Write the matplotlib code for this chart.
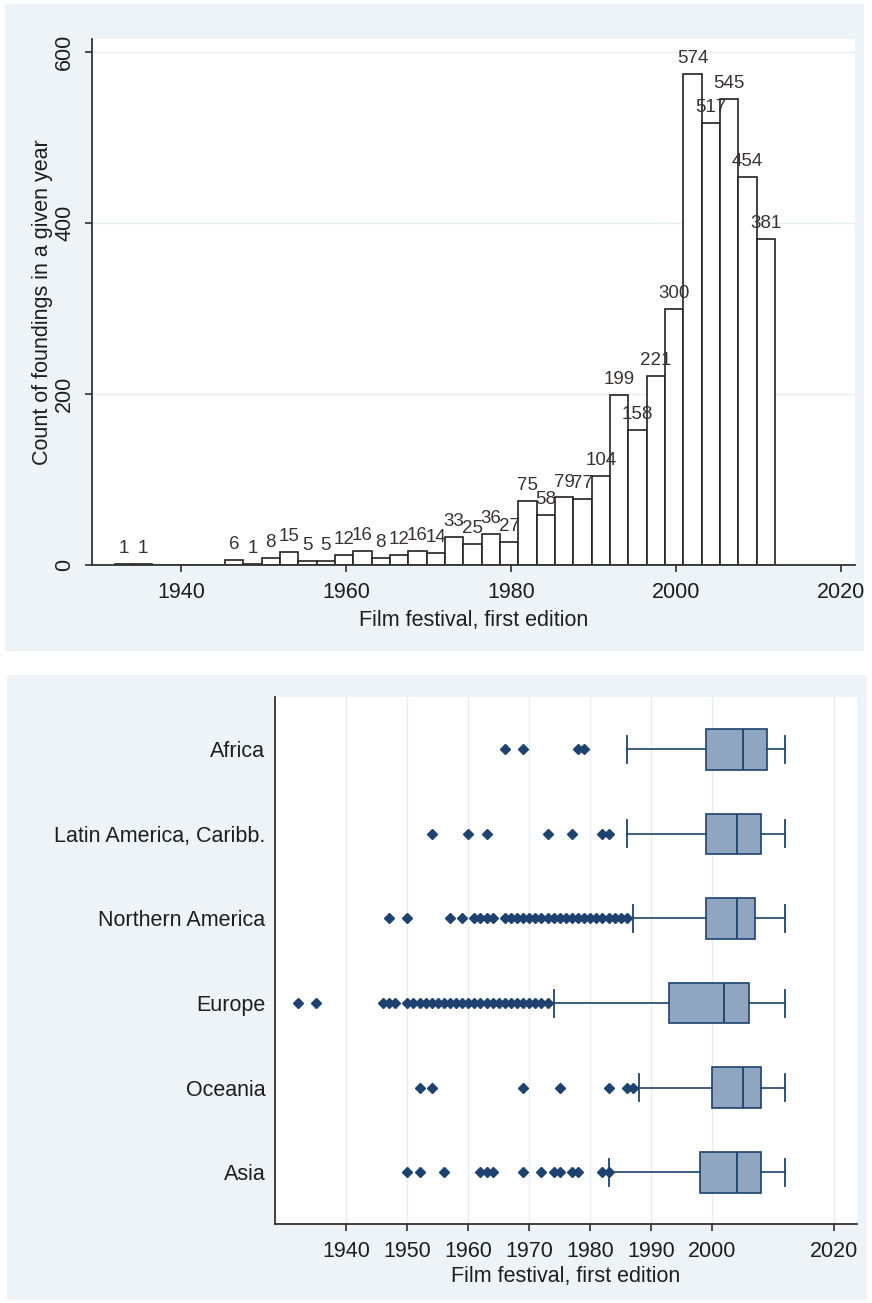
import matplotlib
matplotlib.use("Agg")
import matplotlib.pyplot as plt
from matplotlib.patches import Rectangle
import numpy as np

plt.rcParams['font.family'] = ['Liberation Sans', 'DejaVu Sans']

# --- top panel: foundings per bin (36 equal bins between first and last year)
year_min, year_max, n_bins = 1932, 2012, 36
counts = [1, 1, 0, 0, 0, 0, 6, 1, 8, 15, 5, 5, 12, 16, 8, 12, 16, 14, 33, 25,
          36, 27, 75, 58, 79, 77, 104, 199, 158, 221, 300, 574, 517, 545, 454, 381]
top_xticks = [1940, 1960, 1980, 2000, 2020]
top_yticks = [0, 200, 400, 600]

# --- bottom panel: box plots by region
regions = ["Africa", "Latin America, Caribb.", "Northern America", "Europe", "Oceania", "Asia"]
whislo = [1986, 1986, 1987, 1974, 1988, 1983]
q1 = [1999, 1999, 1999, 1993, 2000, 1998]
med = [2005, 2004, 2004, 2002, 2005, 2004]
q3 = [2009, 2008, 2007, 2006, 2008, 2008]
whishi = [2012, 2012, 2012, 2012, 2012, 2012]
fliers = [
    [1966, 1969, 1978, 1979],
    [1954, 1960, 1963, 1973, 1977, 1982, 1983],
    [1947, 1950, 1957, 1959, 1961, 1962, 1963, 1964, 1966, 1967, 1968, 1969, 1970,
     1971, 1972, 1973, 1974, 1975, 1976, 1977, 1978, 1979, 1980, 1981, 1982, 1983,
     1984, 1985, 1986],
    [1932, 1935, 1946, 1947, 1948, 1950, 1951, 1952, 1953, 1954, 1955, 1956, 1957,
     1958, 1959, 1960, 1961, 1962, 1963, 1964, 1965, 1966, 1967, 1968, 1969, 1970,
     1971, 1972, 1973],
    [1952, 1954, 1969, 1975, 1983, 1986, 1987],
    [1950, 1952, 1956, 1962, 1963, 1964, 1969, 1972, 1974, 1975, 1977, 1978, 1982, 1983],
]
bot_xticks = [1940, 1950, 1960, 1970, 1980, 1990, 2000, 2020]

BG = "#edf3f6"
GRID = "#e6eef2"
INK = "#1e1e1e"
NAVY = "#1d426f"
BOXFILL = "#90a6c0"
FS = 15.5

fig = plt.figure(figsize=(8.72, 13.03), dpi=100, facecolor="white")
fig.patches.append(Rectangle((0.0057, 0.5004), 0.985, 0.4965, transform=fig.transFigure,
                             facecolor=BG, edgecolor="none", zorder=-10))
fig.patches.append(Rectangle((0.008, 0.0023), 0.986, 0.4797, transform=fig.transFigure,
                             facecolor=BG, edgecolor="none", zorder=-10))

# ---------------- histogram
ax1 = fig.add_axes([0.1052, 0.5664, 0.8753, 0.4034])
edges = np.linspace(year_min, year_max, n_bins + 1)
ax1.bar(edges[:-1], counts, width=np.diff(edges), align="edge",
        color="white", edgecolor="#222222", linewidth=1.2, zorder=2)
for x, c in zip(edges[:-1] + np.diff(edges) / 2, counts):
    if c > 0:
        ax1.annotate(str(c), (x, c), xytext=(0, 5), textcoords="offset points",
                     ha="center", va="bottom", fontsize=13.5, color="#3a3232", zorder=3)
ax1.set_xlim(1929.2, 2021.7)
ax1.set_ylim(0, 615)
ax1.set_xticks(top_xticks)
ax1.set_yticks(top_yticks)
ax1.grid(axis="y", color=GRID, linewidth=1)
ax1.set_axisbelow(True)
ax1.tick_params(axis="both", direction="out", length=5, width=1.1, color=INK,
                labelsize=FS, labelcolor=INK, pad=7)
ax1.tick_params(axis="y", labelrotation=90)
for t in ax1.get_yticklabels():
    t.set_va("center")
ax1.set_xlabel("Film festival, first edition", fontsize=FS, color=INK, labelpad=5)
ax1.set_ylabel("Count of foundings in a given year", fontsize=FS, color=INK, labelpad=1)
for s in ["top", "right"]:
    ax1.spines[s].set_visible(False)
for s in ["left", "bottom"]:
    ax1.spines[s].set_color("#333333")
    ax1.spines[s].set_linewidth(1.3)

# ---------------- box plots
ax2 = fig.add_axes([0.3154, 0.0606, 0.667, 0.4047])
stats = [dict(label=r, whislo=a, q1=b, med=c, q3=d, whishi=e, fliers=f)
         for r, a, b, c, d, e, f in zip(regions, whislo, q1, med, q3, whishi, fliers)]
positions = np.arange(len(regions), 0, -1)
ax2.bxp(stats, positions=positions, orientation="horizontal", widths=0.48,
        capwidths=0.32, patch_artist=True,
        boxprops=dict(facecolor=BOXFILL, edgecolor=NAVY, linewidth=1.2),
        medianprops=dict(color=NAVY, linewidth=1.3),
        whiskerprops=dict(color=NAVY, linewidth=1.2),
        capprops=dict(color=NAVY, linewidth=1.3),
        flierprops=dict(marker="D", markerfacecolor=NAVY, markeredgecolor=NAVY,
                        markersize=5.5, linestyle="none"))
ax2.set_xlim(1928.3, 2023.7)
ax2.set_ylim(0.39, 6.62)
ax2.set_xticks(bot_xticks)
ax2.set_yticks(positions)
ax2.set_yticklabels(regions)
ax2.grid(axis="x", color=GRID, linewidth=1)
ax2.set_axisbelow(True)
ax2.tick_params(axis="x", direction="out", length=5, width=1.1, color=INK,
                labelsize=FS, labelcolor=INK, pad=7)
ax2.tick_params(axis="y", length=0, labelsize=FS, labelcolor=INK, pad=7)
ax2.set_xlabel("Film festival, first edition", fontsize=FS, color=INK, labelpad=3)
for s in ["top", "right"]:
    ax2.spines[s].set_visible(False)
for s in ["left", "bottom"]:
    ax2.spines[s].set_color("#333333")
    ax2.spines[s].set_linewidth(1.3)

fig.savefig("out.png", dpi=100, facecolor="white")
